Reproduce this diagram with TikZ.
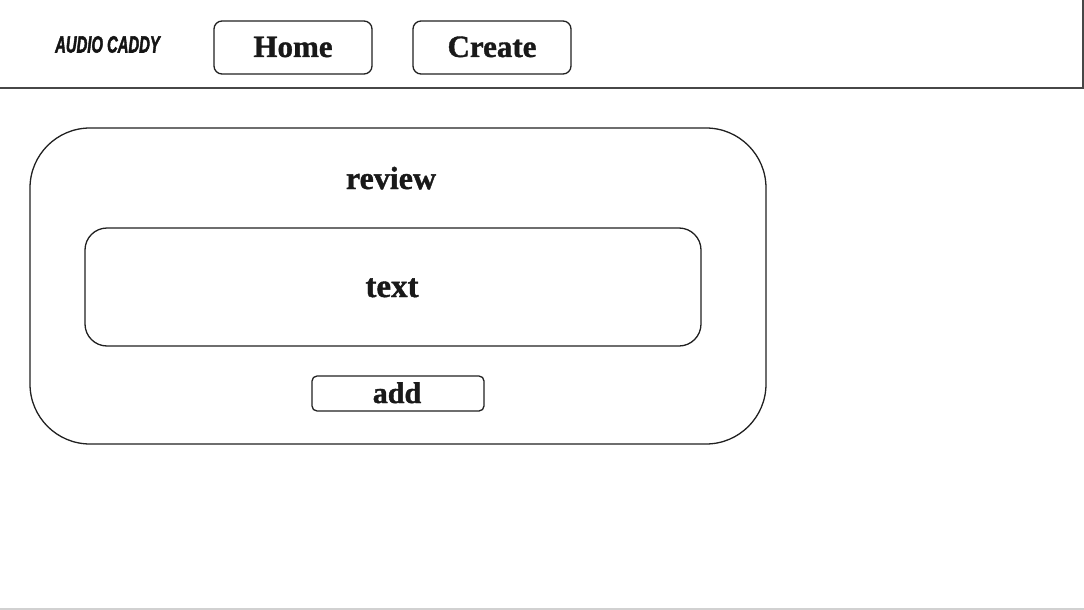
\documentclass[tikz,border=0pt]{standalone}
\usepackage{fontspec}
\usepackage{graphicx}
\setmainfont{Liberation Serif}[BoldFeatures={FakeBold=1.2}]
\newfontfamily\logofont{Liberation Sans}[FakeBold=2.5]
\tikzset{
  box/.style={draw=black!87, line width=1.3pt, fill=none, inner sep=0pt},
  lbl/.style={anchor=base, inner sep=0pt, text=black!90, font=\bfseries\fontsize{31}{31}\selectfont},
}
\begin{document}
\begin{tikzpicture}[x=1pt,y=-1pt]
\useasboundingbox (0,0) rectangle (1084,610);
% top bar
\coordinate (barL) at (0,88);
\coordinate (barR) at (1083,88);
\coordinate (barT) at (1083,0);
\draw[black!72, line width=2pt] (barL) -- (barR) -- (barT);
% bottom line
\coordinate (botL) at (0,609);
\coordinate (botR) at (1084,609);
\draw[black!18, line width=1.5pt] (botL) -- (botR);
% logo
\node[anchor=base, inner sep=0pt, text=black!92] (logo) at (107.5,52.5)
  {\scalebox{0.76}[1.2]{\logofont\bfseries\itshape\fontsize{19.5}{19.5}\selectfont AUDIO CADDY}};
% nav buttons
\node[box, rounded corners=8pt, minimum width=158pt, minimum height=53pt] (homebox) at (293,47.5) {};
\node[lbl] (home) at (293,57) {Home};
\node[box, rounded corners=8pt, minimum width=158pt, minimum height=53pt] (createbox) at (492,47.5) {};
\node[lbl] (create) at (492,57) {Create};
% review card
\node[box, rounded corners=60pt, minimum width=736pt, minimum height=316pt] (card) at (398,286) {};
\node[lbl, font=\bfseries\fontsize{32}{32}\selectfont] (review) at (391,189) {review};
\node[box, rounded corners=22pt, minimum width=616pt, minimum height=118pt] (textbox) at (393,287) {};
\node[lbl, font=\bfseries\fontsize{33}{33}\selectfont] (text) at (392,297) {text};
\node[box, rounded corners=5pt, minimum width=172pt, minimum height=35pt] (addbox) at (398,393.5) {};
\node[lbl, font=\bfseries\fontsize{30}{30}\selectfont] (add) at (397,403) {add};
\end{tikzpicture}
\end{document}
